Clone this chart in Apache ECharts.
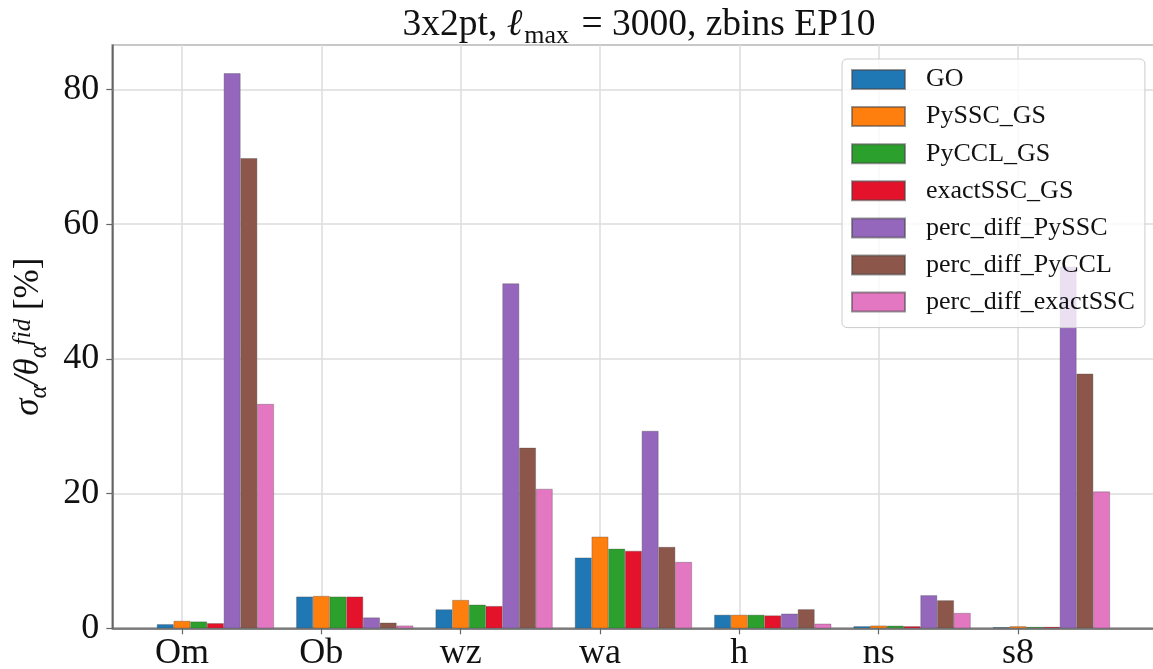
<!DOCTYPE html>
<html><head><meta charset="utf-8">
<script src="https://cdn.jsdelivr.net/npm/echarts@6/dist/echarts.min.js"></script>
<style>html,body{margin:0;padding:0;background:#fff;overflow:hidden}#c{width:1153px;height:669px}</style>
</head><body><div id="c"></div>
<script>
// ---- data ----
const categories = ['Om', 'Ob', 'wz', 'wa', 'h', 'ns', 's8'];
const seriesNames = ['GO', 'PySSC_GS', 'PyCCL_GS', 'exactSSC_GS', 'perc_diff_PySSC', 'perc_diff_PyCCL', 'perc_diff_exactSSC'];
const GO = [0.6, 4.7, 2.8, 10.5, 2.0, 0.3, 0.15];
const PySSC_GS = [1.1, 4.8, 4.2, 13.6, 2.0, 0.4, 0.3];
const PyCCL_GS = [1.0, 4.7, 3.5, 11.8, 2.0, 0.38, 0.2];
const exactSSC_GS = [0.75, 4.7, 3.3, 11.5, 1.9, 0.3, 0.2];
const perc_diff_PySSC = [82.4, 1.6, 51.2, 29.3, 2.17, 4.9, 53.7];
const perc_diff_PyCCL = [69.8, 0.83, 26.8, 12.07, 2.82, 4.15, 37.8];
const perc_diff_exactSSC = [33.3, 0.4, 20.7, 9.84, 0.68, 2.27, 20.3];
const yTickStep = 20;
const yMax = 86.6;

const seriesData = [GO, PySSC_GS, PyCCL_GS, exactSSC_GS, perc_diff_PySSC, perc_diff_PyCCL, perc_diff_exactSSC];
const colors = ['#1f77b4', '#ff7f0e', '#2ca02c', '#e4132b', '#9467bd', '#8c564b', '#e377c2'];

const FONT = '"Liberation Serif", "DejaVu Serif", serif';
const chart = echarts.init(document.getElementById('c'), null, {renderer: 'canvas'});

// empty placeholder slots so that the tick sits on the second bar of each group (as in the original layout)
const placeholders = [0, 1, 2, 3].map(i => ({
  type: 'bar', name: '_pad' + i, data: [], barWidth: '12%', barGap: '0%', silent: true
}));
const realSeries = seriesNames.map((n, i) => ({
  type: 'bar', name: n, data: seriesData[i], barWidth: '12%', barGap: '0%',
  itemStyle: {color: colors[i], borderColor: 'rgba(70,70,70,0.55)', borderWidth: 0.6},
  emphasis: {disabled: true}
}));

const option = {
  backgroundColor: '#fff',
  animation: false,
  title: {
    text: '{n|3x2pt, }{it|ℓ}{sub|max}{n| = 3000, zbins EP10}',
    left: 634, top: 1, textAlign: 'center',
    textStyle: {
      fontFamily: FONT, fontSize: 37.5, color: '#111', fontWeight: 'normal',
      rich: {
        n: {fontFamily: FONT, fontSize: 37.5, color: '#111', lineHeight: 38, verticalAlign: 'top'},
        it: {fontFamily: FONT, fontSize: 37.5, fontStyle: 'italic', color: '#111', lineHeight: 38, verticalAlign: 'top'},
        sub: {fontFamily: FONT, fontSize: 26, color: '#111', lineHeight: 26, padding: [17, 3, 0, 2], verticalAlign: 'top'}
      }
    }
  },
  grid: {
    left: 112.3, top: 45, width: 1114.7, bottom: 40.7, containLabel: false,
    outerBoundsMode: 'none',
    show: true, borderColor: '#666', borderWidth: 1.5, backgroundColor: 'transparent'
  },
  legend: {
    data: seriesNames,
    orient: 'vertical', left: 842, top: 59,
    padding: [7.5, 10, 12.5, 9],
    itemWidth: 53, itemHeight: 19, itemGap: 11.1,
    icon: 'rect',
    backgroundColor: 'rgba(255,255,255,0.8)',
    borderColor: '#cccccc', borderWidth: 1, borderRadius: 5,
    textStyle: {fontFamily: FONT, fontSize: 26, color: '#111', lineHeight: 25, padding: [0, 0, 0, 16]}
  },
  xAxis: {
    type: 'category',
    data: categories.concat(['']),
    boundaryGap: true,
    axisLine: {show: true, lineStyle: {color: '#666', width: 1.5}},
    axisTick: {show: true, alignWithLabel: true, interval: 0, length: 6, lineStyle: {color: '#666', width: 1.2}},
    axisLabel: {interval: 0, fontFamily: FONT, fontSize: 36, color: '#111', margin: 7},
    splitLine: {show: true, alignWithLabel: true, interval: 0, lineStyle: {color: '#dcdcdc', width: 1.5}}
  },
  yAxis: {
    type: 'value', min: 0, max: yMax, interval: yTickStep,
    name: '{it|σ}{sub|α}{it|/θ}{sub|α}{sup|fid}{n| [%]}',
    nameLocation: 'middle', nameRotate: 90, nameGap: 36,
    nameTextStyle: {
      fontFamily: FONT, fontSize: 35, color: '#111',
      rich: {
        n: {fontFamily: FONT, fontSize: 35, color: '#111', lineHeight: 37, verticalAlign: 'top'},
        it: {fontFamily: FONT, fontSize: 35, fontStyle: 'italic', color: '#111', lineHeight: 37, verticalAlign: 'top'},
        sub: {fontFamily: FONT, fontSize: 25, fontStyle: 'italic', color: '#111', lineHeight: 25, padding: [16, 0, 0, 0], verticalAlign: 'top'},
        sup: {fontFamily: FONT, fontSize: 25, fontStyle: 'italic', color: '#111', lineHeight: 25, padding: [0, 0, 0, 0], verticalAlign: 'top'}
      }
    },
    axisLine: {show: true, lineStyle: {color: '#666', width: 1.5}},
    axisTick: {show: true, length: 6, lineStyle: {color: '#666', width: 1.2}},
    axisLabel: {
      fontFamily: FONT, fontSize: 36, color: '#111', margin: 13, showMaxLabel: false,
      formatter: v => (v % yTickStep === 0 ? String(v) : '')
    },
    splitLine: {show: true, lineStyle: {color: '#dcdcdc', width: 1.5}}
  },
  series: placeholders.concat(realSeries)
};
chart.setOption(option);
</script>
</body></html>
